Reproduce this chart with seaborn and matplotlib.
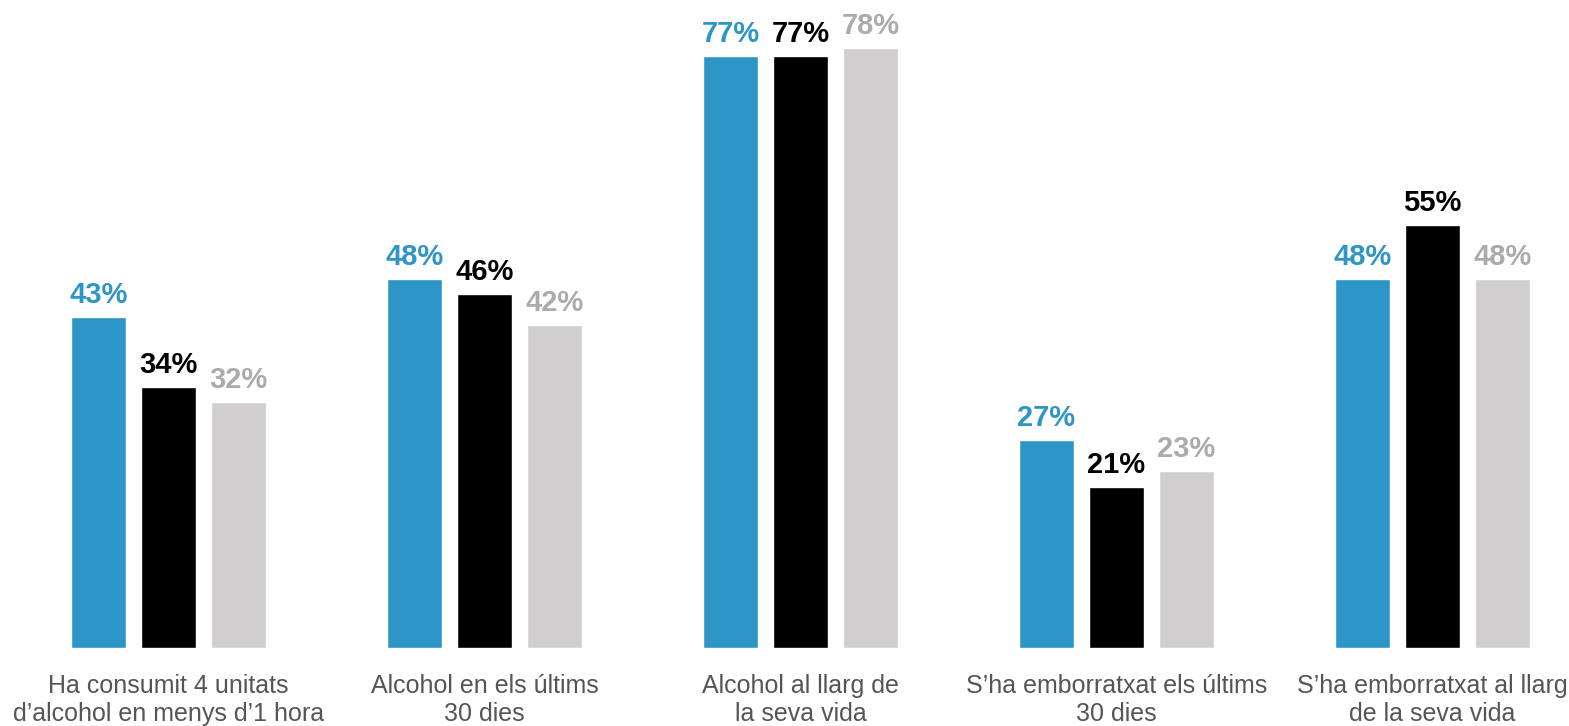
import matplotlib
matplotlib.use('Agg')
import matplotlib.pyplot as plt
import seaborn as sns
import pandas as pd

categories = [
    "Ha consumit 4 unitats\nd\u2019alcohol en menys d\u20191 hora",
    "Alcohol en els \u00faltims\n30 dies",
    "Alcohol al llarg de\nla seva vida",
    "S\u2019ha emborratxat els \u00faltims\n30 dies",
    "S\u2019ha emborratxat al llarg\nde la seva vida",
]
series_names = ["A", "B", "C"]
values_a = [43, 48, 77, 27, 48]
values_b = [34, 46, 77, 21, 55]
values_c = [32, 42, 78, 23, 48]

bar_colors = ["#2E96C6", "#000000", "#D0CECF"]
label_colors = ["#2E96C6", "#000000", "#AEAAAA"]

rows = []
for name, vals in zip(series_names, [values_a, values_b, values_c]):
    for cat, v in zip(categories, vals):
        rows.append({"cat": cat, "serie": name, "val": v})
df = pd.DataFrame(rows)

sns.set_style("white")
plt.rcParams['font.family'] = ['Liberation Sans', 'DejaVu Sans']

fig = plt.figure(figsize=(15.69, 7.26), dpi=100)
ax = fig.add_axes([0, (726 - 648) / 726, 1, 648 / 726])

sns.barplot(data=df, x="cat", y="val", hue="serie", order=categories,
            hue_order=series_names, palette=bar_colors, width=0.6646,
            gap=0.214, saturation=1, legend=False, ax=ax, errorbar=None)

ax.set_xlim(-168.5 / 316, (1569 - 168.5) / 316)
ax.set_ylim(0, 648 / 7.69)

for cont, col in zip(ax.containers, label_colors):
    for bar in cont:
        h = bar.get_height()
        ax.annotate(f"{h:.0f}%", (bar.get_x() + bar.get_width() / 2, h),
                    xytext=(0, 10), textcoords="offset points",
                    ha="center", va="baseline", fontsize=21,
                    fontweight="bold", color=col)

ax.set_xlabel("")
ax.set_ylabel("")
ax.set_yticks([])
ax.tick_params(axis="x", length=0, labelsize=18, labelcolor="#555555", pad=19)
for s in ax.spines.values():
    s.set_visible(False)

fig.savefig("out.png", dpi=100)
plt.close()
